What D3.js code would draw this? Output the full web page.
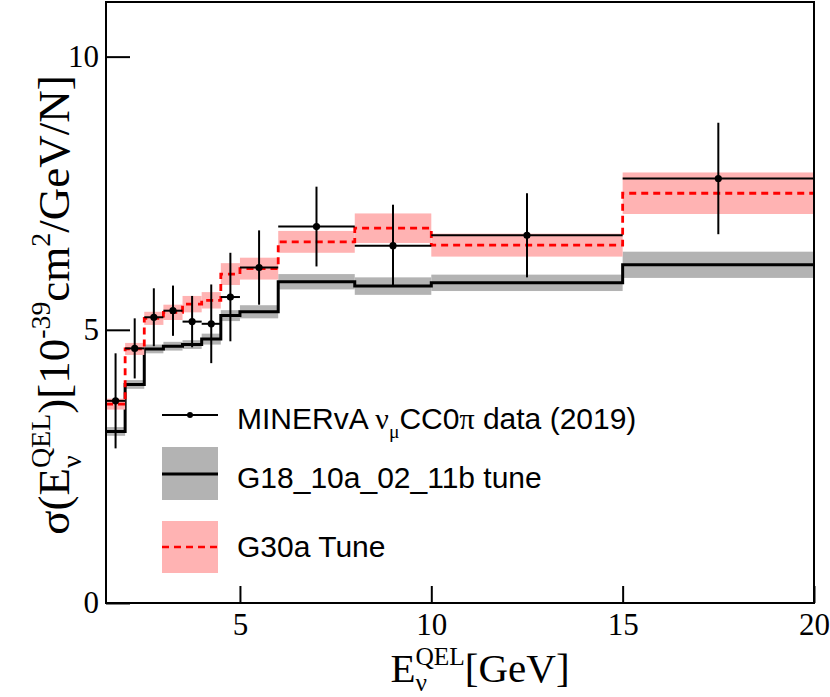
<!DOCTYPE html>
<html><head><meta charset="utf-8">
<script src="https://cdn.jsdelivr.net/npm/d3@7"></script>
<style>body{margin:0;background:#fff}svg{display:block}text{white-space:pre}.tk text{font-family:'Liberation Serif','Times New Roman',serif !important;font-size:31px !important}</style>
</head><body><svg id="c" width="830" height="697"></svg>
<script>
// ---- data ----
const binEdges = [1.5, 2, 2.5, 3, 3.5, 4, 4.5, 5, 6, 8, 10, 15, 20];
const dataVal  = [3.70, 4.66, 5.23, 5.35, 5.15, 5.11, 5.60, 6.14, 6.89, 6.54, 6.73, 7.77];
const dataErr  = [0.87, 0.55, 0.53, 0.46, 0.47, 0.72, 0.81, 0.68, 0.73, 0.75, 0.77, 1.02];
const g18Val   = [3.14, 4.00, 4.65, 4.70, 4.73, 4.83, 5.26, 5.33, 5.88, 5.80, 5.86, 6.19];
const g18Err   = [0.08, 0.08, 0.08, 0.08, 0.08, 0.10, 0.10, 0.12, 0.14, 0.16, 0.15, 0.24];
const g30Val   = [3.64, 4.65, 5.21, 5.32, 5.47, 5.54, 6.02, 6.12, 6.61, 6.86, 6.55, 7.50];
const g30Err   = [0.10, 0.11, 0.12, 0.14, 0.15, 0.15, 0.20, 0.20, 0.20, 0.27, 0.21, 0.38];
const xTicks = [5, 10, 15, 20];
const yTicks = [0, 5, 10];
const legendLabels = ["MINERvA", "G18_10a_02_11b tune", "G30a Tune"];

const svg = d3.select('#c');
const M = {l:106, r:814, t:2, b:603};
const x = d3.scaleLinear().domain([1.5, 20]).range([M.l, M.r]);
const y = d3.scaleLinear().domain([0, 11]).range([M.b, M.t]);

const bins = d3.range(binEdges.length - 1).map(i => ({x0: binEdges[i], x1: binEdges[i+1], c: (binEdges[i]+binEdges[i+1])/2, i}));

svg.append('defs').append('clipPath').attr('id','clip').append('rect')
  .attr('x', M.l).attr('y', M.t).attr('width', M.r - M.l).attr('height', M.b - M.t);
const plot = svg.append('g').attr('clip-path','url(#clip)');

function band(vals, errs, color) {
  plot.append('g').selectAll('rect').data(bins).join('rect')
    .attr('x', d => x(d.x0)).attr('width', d => x(d.x1) - x(d.x0))
    .attr('y', d => y(vals[d.i] + errs[d.i]))
    .attr('height', d => y(vals[d.i] - errs[d.i]) - y(vals[d.i] + errs[d.i]))
    .attr('fill', color);
}
function step(vals, color, width, dash) {
  const pts = bins.map(d => [d.x0, vals[d.i]]);
  pts.push([binEdges[binEdges.length-1], vals[vals.length-1]]);
  plot.append('path').datum(pts)
    .attr('d', d3.line().x(d => x(d[0])).y(d => y(d[1])).curve(d3.curveStepAfter))
    .attr('fill','none').attr('stroke', color).attr('stroke-width', width)
    .attr('stroke-dasharray', dash || null);
}
band(g18Val, g18Err, '#b3b3b3');
step(g18Val, '#000', 3);
band(g30Val, g30Err, '#ffb3b3');
step(g30Val, '#ff0000', 2.8, '7,5');

// data points
const dg = plot.append('g').attr('stroke','#000').attr('stroke-width',2);
dg.selectAll('line.v').data(bins).join('line').attr('class','v')
  .attr('x1', d => x(d.c)).attr('x2', d => x(d.c))
  .attr('y1', d => y(dataVal[d.i] + dataErr[d.i])).attr('y2', d => y(dataVal[d.i] - dataErr[d.i]));
dg.selectAll('line.h').data(bins).join('line').attr('class','h')
  .attr('x1', d => x(d.x0)).attr('x2', d => x(d.x1))
  .attr('y1', d => y(dataVal[d.i])).attr('y2', d => y(dataVal[d.i]));
plot.append('g').selectAll('circle').data(bins).join('circle')
  .attr('cx', d => x(d.c)).attr('cy', d => y(dataVal[d.i])).attr('r', 3.6).attr('fill','#000');

// axes
const serif = "'Liberation Serif','Times New Roman',serif";
const sans = "'Liberation Sans',Arial,Helvetica,sans-serif";
const gy = svg.append('g').attr('class','tk').attr('transform', `translate(${M.l},0)`)
  .call(d3.axisLeft(y).tickValues(yTicks).tickSize(-24).tickPadding(7).tickFormat(d3.format('d')));
const gx = svg.append('g').attr('class','tk').attr('transform', `translate(0,${M.b})`)
  .call(d3.axisBottom(x).tickValues(xTicks).tickSize(-17).tickPadding(10).tickFormat(d3.format('d')));
[gx, gy].forEach(g => {
  g.attr('font-family', serif).attr('font-size', 31);
  g.select('.domain').remove();
  g.selectAll('line').attr('stroke','#000').attr('stroke-width',2);
  g.selectAll('text').attr('font-family', serif).attr('font-size', 31).attr('fill','#000');
});
svg.append('rect').attr('x', M.l).attr('y', M.t).attr('width', M.r - M.l).attr('height', M.b - M.t)
  .attr('fill','none').attr('stroke','#000').attr('stroke-width',2);

// rich text helper
function rich(parent, pieces, size, ff) {
  const g = parent.append('g');
  let cx = 0, stackStart = 0;
  pieces.forEach(p => {
    const s = size * (p.s || 1);
    const px = p.stack ? stackStart : cx;
    const t = g.append('text').attr('x', px).attr('y', (p.dy || 0) * size)
      .style('font-size', s + 'px').style('font-family', p.ff || ff).attr('fill','#000').text(p.t);
    const w = t.node().getComputedTextLength();
    if (p.stack) cx = Math.max(cx, stackStart + w);
    else { stackStart = cx; cx += w; }
  });
  return {g, width: cx};
}

// x title
const xt = rich(svg, [
  {t:'E'}, {t:'QEL', s:0.62, dy:-0.42}, {t:'ν', s:0.62, dy:0.22, stack:true}, {t:'[GeV]'}
], 41, serif);
xt.g.attr('transform', `translate(${480 - xt.width/2},682)`);

// y title
const yt = rich(svg, [
  {t:'σ(E'}, {t:'QEL', s:0.62, dy:-0.42}, {t:'ν', s:0.62, dy:0.26, stack:true},
  {t:')[10'}, {t:'-39', s:0.62, dy:-0.42}, {t:'cm'}, {t:'2', s:0.62, dy:-0.42}, {t:'/GeV/N]'}
], 45, serif);
yt.g.attr('transform', `translate(69,305) rotate(-90) translate(${-yt.width/2},0)`);

// legend
const lg = svg.append('g');
lg.append('line').attr('x1',162).attr('x2',218).attr('y1',415).attr('y2',415).attr('stroke','#000').attr('stroke-width',2);
lg.append('circle').attr('cx',190).attr('cy',415).attr('r',3).attr('fill','#000');
const l1 = rich(lg, [
  {t: legendLabels[0] + ' '}, {t:'ν', ff: serif}, {t:'μ', ff: serif, s:0.65, dy:0.3},
  {t:'CC0'}, {t:'π', ff: serif}, {t:' data (2019)'}
], 30, sans);
l1.g.attr('transform','translate(237,429)');

lg.append('rect').attr('x',162).attr('y',447).attr('width',56).attr('height',53).attr('fill','#b3b3b3');
lg.append('line').attr('x1',162).attr('x2',218).attr('y1',474).attr('y2',474).attr('stroke','#000').attr('stroke-width',3);
lg.append('text').attr('x',237).attr('y',488).style('font-family',sans).style('font-size','30px').text(legendLabels[1]);

lg.append('rect').attr('x',162).attr('y',521).attr('width',56).attr('height',52).attr('fill','#ffb3b3');
lg.append('line').attr('x1',162).attr('x2',218).attr('y1',547).attr('y2',547).attr('stroke','#ff0000').attr('stroke-width',2.5).attr('stroke-dasharray','7,5');
lg.append('text').attr('x',237).attr('y',557).style('font-family',sans).style('font-size','30px').text(legendLabels[2]);
</script></body></html>
